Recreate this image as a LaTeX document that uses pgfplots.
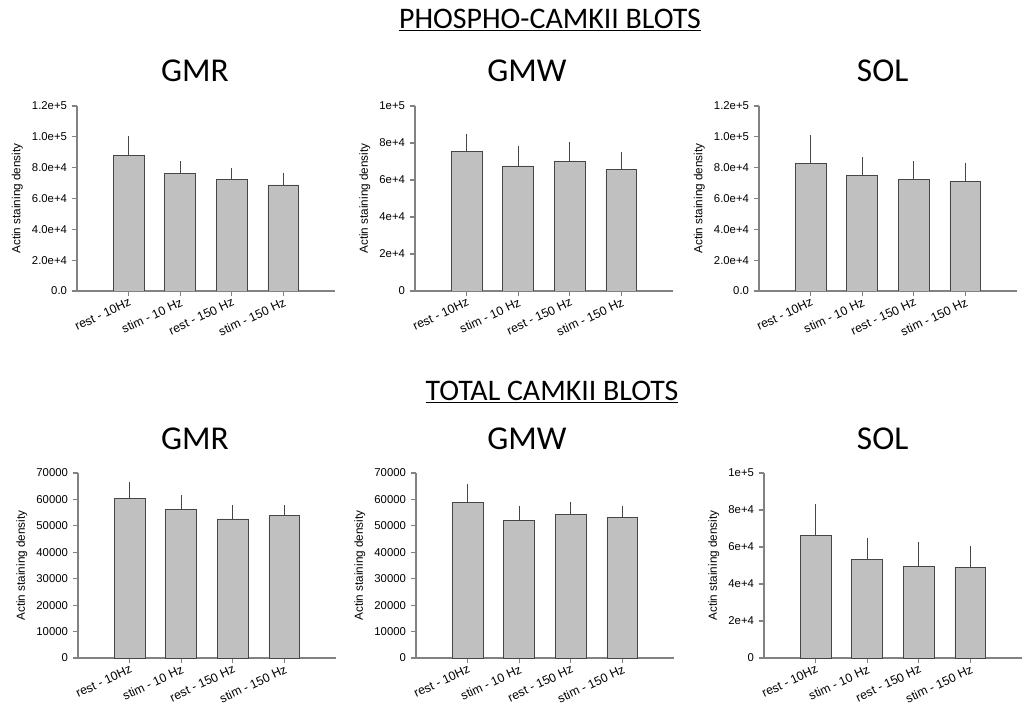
\documentclass[border=0pt]{standalone}
\usepackage{pgfplots}
\pgfplotsset{compat=1.18}
\usepackage{fontspec}
\setmainfont{Liberation Sans}
\newfontfamily\titlefont{Carlito}

\definecolor{barfill}{RGB}{192,192,192}
\definecolor{baredge}{RGB}{70,70,70}
\definecolor{axisgray}{RGB}{130,130,130}

% values: x, mean, upper error
\pgfplotstableread{
x y e
1 88200 10200
2 76300 5600
3 72200 5000
4 68800 5600
}\phosGMR
\pgfplotstableread{
x y e
1 75300 7600
2 67600 9000
3 70100 8300
4 65900 7100
}\phosGMW
\pgfplotstableread{
x y e
1 82800 15800
2 75000 9300
3 72400 9500
4 71100 9800
}\phosSOL
\pgfplotstableread{
x y e
1 60300 5000
2 56300 4000
3 52600 4000
4 54100 2500
}\totGMR
\pgfplotstableread{
x y e
1 58800 5800
2 52100 4200
3 54400 3400
4 53100 3200
}\totGMW
\pgfplotstableread{
x y e
1 66300 15000
2 53200 9500
3 49700 10800
4 49000 9600
}\totSOL

\pgfplotsset{
  panel/.style={
    scale only axis, width=193.5pt, height=138.75pt, anchor=south west,
    axis x line=bottom, axis y line=left,
    axis line style={axisgray, line width=0.8pt, -},
    xmin=0, xmax=5, ymin=0,
    xtick={1,2,3,4},
    xticklabels={rest - 10Hz, stim - 10 Hz, rest - 150 Hz, stim - 150 Hz},
    x tick label style={rotate=25, anchor=north east, inner sep=0.5pt,
      font=\fontsize{9.2}{10}\selectfont},
    y tick label style={font=\fontsize{8.5}{10}\selectfont},
    tick align=outside, major tick length=4pt,
    tick style={axisgray, line width=0.8pt},
    scaled y ticks=false,
    ylabel={Actin staining density},
    ylabel style={font=\fontsize{8.8}{10}\selectfont},
    ybar, bar width=0.6, bar shift=0pt,
  },
  bars/.style={fill=barfill, draw=baredge, line width=0.6pt,
    error bars/.cd, y dir=plus, y explicit,
    error bar style={baredge, line width=0.6pt},
    error mark options={baredge, mark size=2.7pt, line width=0.6pt}},
  sci12/.style={ymax=120000, ytick={0,20000,...,120000},
    yticklabels={0.0,2.0e+4,4.0e+4,6.0e+4,8.0e+4,1.0e+5,1.2e+5}},
  sci10/.style={ymax=100000, ytick={0,20000,...,100000},
    yticklabels={0,2e+4,4e+4,6e+4,8e+4,1e+5}},
  plain70/.style={ymax=70000, ytick={0,10000,...,70000},
    yticklabels={0,10000,20000,30000,40000,50000,60000,70000}},
}

\begin{document}
\begin{tikzpicture}
\useasboundingbox (0,0) rectangle (768.75pt,-531.75pt);

% section titles
\node[font=\titlefont\fontsize{22.4}{24}\selectfont] at (412.5pt,-15pt) {\underline{PHOSPHO-CAMKII BLOTS}};
\node[font=\titlefont\fontsize{22.4}{24}\selectfont] at (414pt,-294pt) {\underline{TOTAL CAMKII BLOTS}};

% panel titles
\node[font=\titlefont\fontsize{25}{27}\selectfont] at (146.25pt,-53.25pt) {GMR};
\node[font=\titlefont\fontsize{25}{27}\selectfont] at (395.25pt,-53.25pt) {GMW};
\node[font=\titlefont\fontsize{25}{27}\selectfont] at (662pt,-53.25pt) {SOL};
\node[font=\titlefont\fontsize{25}{27}\selectfont] at (146.25pt,-329.25pt) {GMR};
\node[font=\titlefont\fontsize{25}{27}\selectfont] at (395.25pt,-329.25pt) {GMW};
\node[font=\titlefont\fontsize{25}{27}\selectfont] at (662pt,-329.25pt) {SOL};

\begin{axis}[panel, sci12, at={(57.75pt,-218.25pt)}]
\addplot[bars] table[x=x, y=y, y error=e] {\phosGMR};
\end{axis}
\begin{axis}[panel, sci10, at={(311.25pt,-218.25pt)}]
\addplot[bars] table[x=x, y=y, y error=e] {\phosGMW};
\end{axis}
\begin{axis}[panel, sci12, at={(569.25pt,-218.25pt)}]
\addplot[bars] table[x=x, y=y, y error=e] {\phosSOL};
\end{axis}

\begin{axis}[panel, plain70, at={(58.5pt,-493.5pt)}]
\addplot[bars] table[x=x, y=y, y error=e] {\totGMR};
\end{axis}
\begin{axis}[panel, plain70, at={(312pt,-493.5pt)}]
\addplot[bars] table[x=x, y=y, y error=e] {\totGMW};
\end{axis}
\begin{axis}[panel, sci10, at={(573pt,-493.5pt)}]
\addplot[bars] table[x=x, y=y, y error=e] {\totSOL};
\end{axis}
\end{tikzpicture}
\end{document}
